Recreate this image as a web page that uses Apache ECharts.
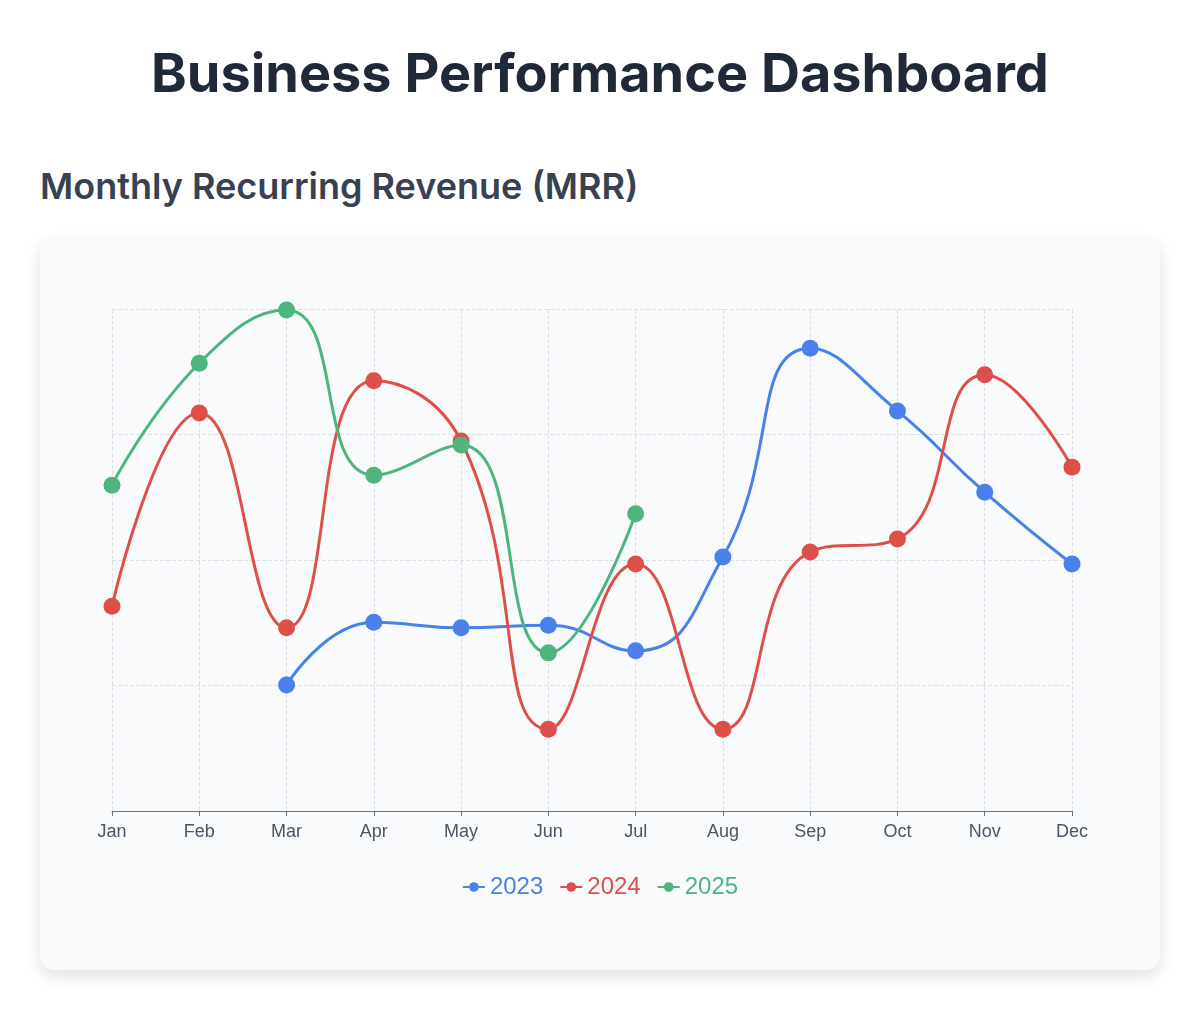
<!DOCTYPE html>
<html>
<head>
<meta charset="utf-8">
<script src="https://cdn.jsdelivr.net/npm/echarts@6/dist/echarts.min.js"></script>
<style>
body { margin:0; background:#fff; font-family:Inter, "Noto Sans", sans-serif; }
h1 { position:absolute; left:0; width:1200px; top:40px; margin:0; text-align:center; font-size:54px; font-weight:700; color:#1f2937; line-height:66px; }
h2 { position:absolute; left:40px; top:163px; margin:0; font-size:36px; font-weight:600; color:#374151; line-height:46px; }
#card { position:absolute; left:40px; top:238px; width:1120px; height:732px; background:#f8fafc; border-radius:14px; box-shadow:0 6px 16px rgba(0,0,0,0.12); }
#chart { width:1120px; height:732px; }
</style>
</head>
<body>
<h1>Business Performance Dashboard</h1>
<h2>Monthly Recurring Revenue (MRR)</h2>
<div id="card"><div id="chart"></div></div>
<script>
var months = ['Jan','Feb','Mar','Apr','May','Jun','Jul','Aug','Sep','Oct','Nov','Dec'];
var mrr2023 = [null, null, 25.1, 37.6, 36.5, 37.0, 31.9, 50.6, 92.2, 79.7, 63.5, 49.2];
var mrr2024 = [40.8, 79.3, 36.5, 85.7, 73.7, 16.3, 49.2, 16.3, 51.6, 54.2, 86.9, 68.5];
var mrr2025 = [64.9, 89.2, 99.8, 66.9, 72.9, 31.5, 59.2, null, null, null, null, null];

var chart = echarts.init(document.getElementById('chart'));

function line(name, data, color){
    return {
        name: name,
        type: 'line',
        smooth: true,
        data: data,
        symbol: 'circle',
        symbolSize: 17,
        lineStyle: { width: 3, color: color },
        itemStyle: { color: color }
    };
}

option = {
    color: ['#4a80ea', '#df4f4a', '#4db57d'],
    grid: { left: 72, right: 88, top: 71, bottom: 159 },
    legend: {
        top: 632,
        left: 'center',
        itemWidth: 22,
        itemHeight: 12,
        itemGap: 16,
        textStyle: { fontSize: 24, color: 'inherit' },
        data: ['2023','2024','2025']
    },
    xAxis: {
        type: 'category',
        boundaryGap: false,
        data: months,
        axisLine: { lineStyle: { color: '#6b7280' } },
        axisTick: { lineStyle: { color: '#6b7280' } },
        axisLabel: { fontSize: 18, color: '#4b5563', margin: 12 },
        splitLine: { show: true, lineStyle: { type: 'dashed', color: '#dcdfe4' } }
    },
    yAxis: {
        type: 'value',
        min: 0,
        max: 100,
        interval: 25,
        axisLabel: { show: false },
        axisLine: { show: false },
        axisTick: { show: false },
        splitLine: { lineStyle: { type: 'dashed', color: '#dcdfe4' } }
    },
    series: [
        line('2023', mrr2023, '#4a80ea'),
        line('2024', mrr2024, '#df4f4a'),
        line('2025', mrr2025, '#4db57d')
    ]
};

chart.setOption(option);
</script>
</body>
</html>
